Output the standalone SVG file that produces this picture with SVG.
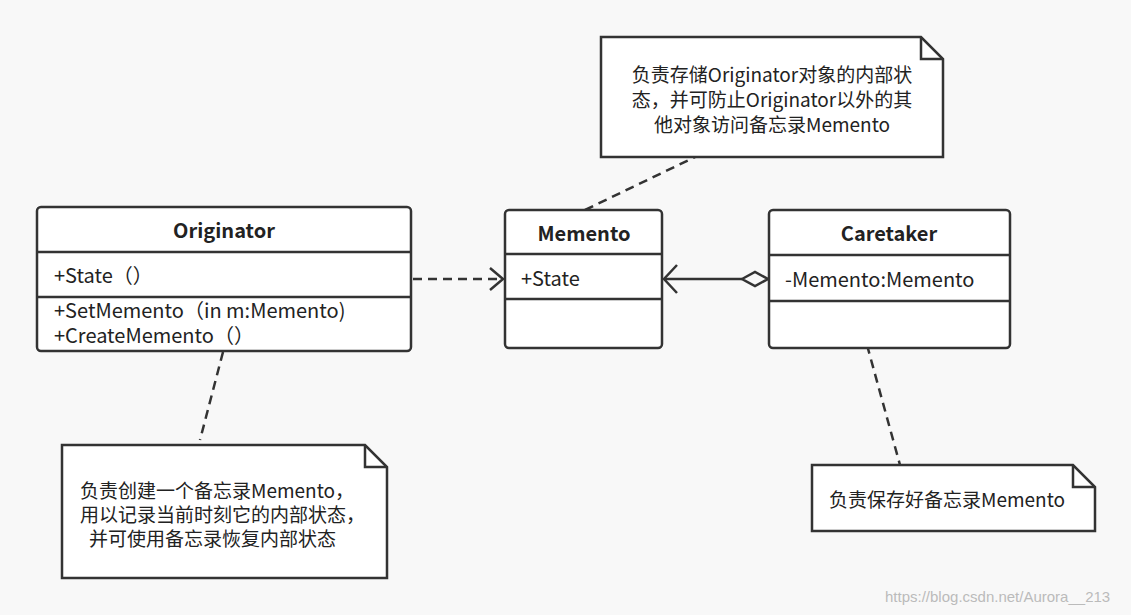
<svg xmlns="http://www.w3.org/2000/svg" width="1131" height="615" viewBox="0 0 1131 615">
<style>
.box{fill:#fff;stroke:#333;stroke-width:2.5}
.ln{stroke:#333;stroke-width:2.5;fill:none}
.dash{stroke:#333;stroke-width:2.5;fill:none;stroke-dasharray:9 6}
text{font-family:"Microsoft YaHei","Noto Sans CJK SC",sans-serif;fill:#222;font-size:20px}
.n{font-size:19px}
.t{font-weight:bold;text-anchor:middle}
.c{text-anchor:middle}
</style>
<rect width="1131" height="615" fill="#f8f8f8"/>
<g id="connectors">
<path class="dash" d="M585,210 L695,157"/>
<path class="dash" d="M223,352 L200,440"/>
<path class="dash" d="M867,345 L900,465"/>
<path class="dash" d="M413,279 L500,279"/>
<path class="ln" d="M490,268 L503,279 L490,290"/>
<path class="ln" d="M664,279 L742,279"/>
<path class="ln" d="M677,265 L664,279 L677,293"/>
<path class="ln" d="M742,279 L755,272 L768,279 L755,286 Z" fill="#fff"/>
</g>
<g id="originator">
<rect class="box" x="37" y="207" width="374" height="144" rx="4"/>
<path class="ln" d="M37,252H411M37,297H411"/>
<text class="t" x="224" y="238">Originator</text>
<text x="54" y="283">+State（）</text>
<text x="54" y="318">+SetMemento（in m:Memento)</text>
<text x="54" y="343">+CreateMemento（）</text>
</g>
<g id="memento">
<rect class="box" x="505" y="210" width="157" height="138" rx="4"/>
<path class="ln" d="M505,254H662M505,299H662"/>
<text class="t" x="584" y="241">Memento</text>
<text x="521" y="286">+State</text>
</g>
<g id="caretaker">
<rect class="box" x="769" y="210" width="241" height="138" rx="4"/>
<path class="ln" d="M769,255H1010M769,301H1010"/>
<text class="t" x="889" y="241">Caretaker</text>
<text x="785" y="287">-Memento:Memento</text>
</g>
<g id="note-memento">
<path class="box" d="M601,37H921L943,59V157H601Z"/>
<path class="ln" d="M921,37V59H943"/>
<text class="c n" x="772" y="82">负责存储Originator对象的内部状</text>
<text class="c n" x="772" y="107">态，并可防止Originator以外的其</text>
<text class="c n" x="772" y="132">他对象访问备忘录Memento</text>
</g>
<g id="note-originator">
<path class="box" d="M62,445H365L387,467V578H62Z"/>
<path class="ln" d="M365,445V467H387"/>
<text class="n" x="80" y="498">负责创建一个备忘录Memento，</text>
<text class="n" x="80" y="522">用以记录当前时刻它的内部状态，</text>
<text class="n" x="89" y="546">并可使用备忘录恢复内部状态</text>
</g>
<g id="note-caretaker">
<path class="box" d="M812,465H1073L1095,487V531H812Z"/>
<path class="ln" d="M1073,465V487H1095"/>
<text class="n" x="829" y="507">负责保存好备忘录Memento</text>
</g>
<text x="885" y="602" style="font-size:15px;fill:#bbb;font-family:'Liberation Sans',sans-serif">https://blog.csdn.net/Aurora__213</text>
</svg>
